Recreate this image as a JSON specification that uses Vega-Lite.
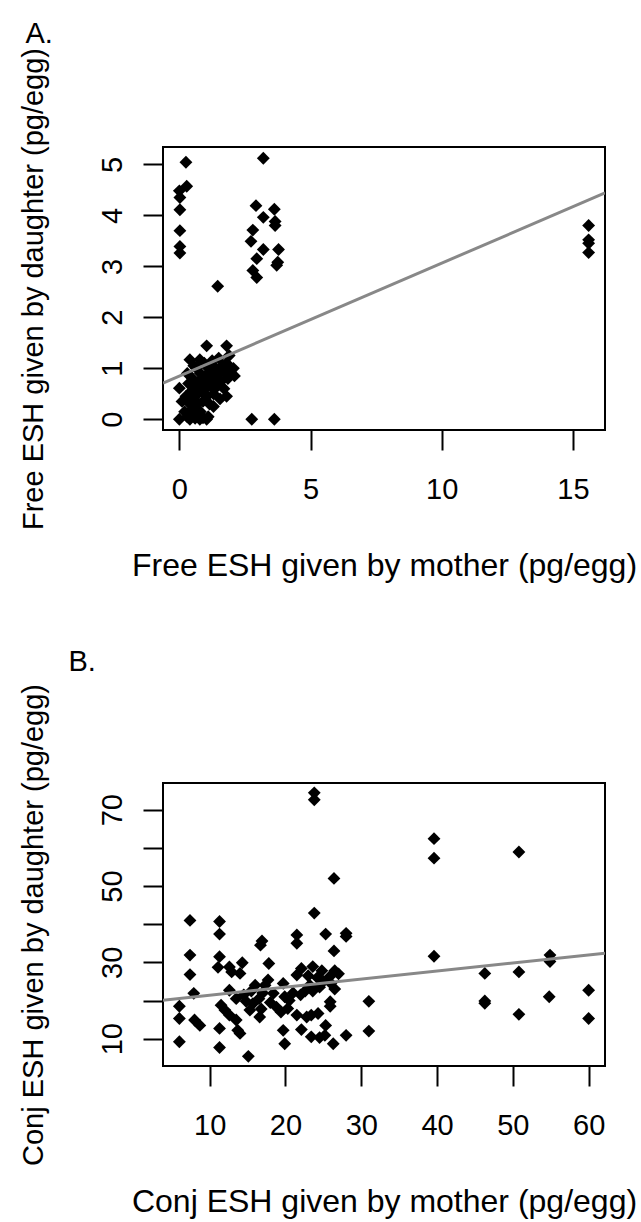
{
  "$schema": "https://vega.github.io/schema/vega-lite/v6.json",
  "autosize": {"type": "none"},
  "padding": {"left": 163, "top": 147, "right": 478, "bottom": 1075},
  "background": "white",
  "config": {
    "font": "Liberation Sans",
    "view": {"stroke": "black", "strokeWidth": 2},
    "axis": {
      "domain": false, "grid": false, "ticks": true, "tickSize": 20, "tickWidth": 2, "tickColor": "black",
      "labelFontSize": 29, "labelColor": "black", "labelFont": "Liberation Sans", "labelFlush": false, "labelOverlap": false,
      "titleFontWeight": "normal", "titleColor": "black", "titleFont": "Liberation Sans"
    },
    "axisX": {"labelBaseline": "alphabetic", "labelPadding": 48, "titleFontSize": 32, "titleY": 145, "titleBaseline": "alphabetic"},
    "axisY": {"labelAngle": -90, "labelAlign": "center", "labelBaseline": "alphabetic", "labelPadding": 22,
              "titleFontSize": 29, "titleAngle": -90, "titleAlign": "center", "titleBaseline": "alphabetic", "titleX": -121, "titleY": 141.5}
  },
  "datasets": {
    "ptsA": [
      {"mother":0.25,"daughter":5.04},{"mother":0.28,"daughter":4.57},{"mother":0.0,"daughter":4.48},{"mother":0.02,"daughter":4.35},
      {"mother":0.02,"daughter":4.11},{"mother":0.02,"daughter":3.70},{"mother":0.02,"daughter":3.39},{"mother":0.02,"daughter":3.26},
      {"mother":3.2,"daughter":5.12},{"mother":2.92,"daughter":4.19},{"mother":3.62,"daughter":4.12},{"mother":3.2,"daughter":3.96},
      {"mother":3.65,"daughter":3.88},{"mother":3.65,"daughter":3.80},{"mother":2.8,"daughter":3.71},{"mother":2.73,"daughter":3.49},
      {"mother":3.2,"daughter":3.33},{"mother":3.78,"daughter":3.33},{"mother":2.95,"daughter":3.15},{"mother":3.71,"daughter":3.02},
      {"mother":3.75,"daughter":3.08},{"mother":2.8,"daughter":2.92},{"mother":2.95,"daughter":2.78},
      {"mother":15.6,"daughter":3.80},{"mother":15.6,"daughter":3.52},{"mother":15.6,"daughter":3.45},{"mother":15.6,"daughter":3.27},
      {"mother":1.46,"daughter":2.61},{"mother":1.04,"daughter":1.44},{"mother":1.8,"daughter":1.44},
      {"mother":0.0,"daughter":0.0},{"mother":0.78,"daughter":0.0},{"mother":1.04,"daughter":0.0},{"mother":2.76,"daughter":0.0},{"mother":3.62,"daughter":0.0},
      {"mother":0.0,"daughter":0.61},{"mother":0.1,"daughter":0.35},{"mother":0.2,"daughter":0.15},{"mother":0.25,"daughter":0.45},
      {"mother":0.3,"daughter":0.05},{"mother":0.35,"daughter":0.7},{"mother":0.4,"daughter":0.3},{"mother":0.45,"daughter":0.55},
      {"mother":0.5,"daughter":0.2},{"mother":0.5,"daughter":0.8},{"mother":0.55,"daughter":0.4},{"mother":0.6,"daughter":0.65},
      {"mother":0.6,"daughter":0.1},{"mother":0.65,"daughter":1.0},{"mother":0.7,"daughter":0.5},{"mother":0.7,"daughter":0.3},
      {"mother":0.75,"daughter":0.75},{"mother":0.8,"daughter":0.9},{"mother":0.8,"daughter":0.15},{"mother":0.85,"daughter":0.55},
      {"mother":0.9,"daughter":0.7},{"mother":0.9,"daughter":0.35},{"mother":0.95,"daughter":1.1},{"mother":1.0,"daughter":0.6},
      {"mother":1.0,"daughter":0.85},{"mother":1.05,"daughter":0.45},{"mother":1.1,"daughter":0.75},{"mother":1.1,"daughter":1.0},
      {"mother":1.15,"daughter":0.3},{"mother":1.2,"daughter":0.65},{"mother":1.2,"daughter":0.9},{"mother":1.25,"daughter":1.15},
      {"mother":1.3,"daughter":0.5},{"mother":1.35,"daughter":0.8},{"mother":1.4,"daughter":1.0},{"mother":1.45,"daughter":0.65},
      {"mother":1.5,"daughter":0.9},{"mother":1.5,"daughter":1.2},{"mother":1.55,"daughter":0.4},{"mother":1.6,"daughter":0.75},
      {"mother":1.65,"daughter":1.05},{"mother":1.7,"daughter":0.6},{"mother":1.75,"daughter":0.9},{"mother":1.8,"daughter":1.1},
      {"mother":1.85,"daughter":0.8},{"mother":1.9,"daughter":1.25},{"mother":1.95,"daughter":0.95},{"mother":0.4,"daughter":0.0},
      {"mother":0.6,"daughter":0.02},{"mother":0.9,"daughter":0.03},{"mother":1.1,"daughter":0.05},{"mother":0.3,"daughter":0.9},
      {"mother":0.55,"daughter":1.05},{"mother":1.3,"daughter":0.25},{"mother":0.78,"daughter":0.06},{"mother":0.4,"daughter":1.17},
      {"mother":0.78,"daughter":1.17},{"mother":2.06,"daughter":1.0},{"mother":2.1,"daughter":0.85},{"mother":1.8,"daughter":0.45}
    ],
    "lineA": [{"mother":-0.624,"daughter":0.71},{"mother":16.224,"daughter":4.44}],
    "ptsB": [
      {"mother":50.8,"daughter":58.9},{"mother":39.6,"daughter":62.4},{"mother":39.6,"daughter":57.3},{"mother":39.6,"daughter":31.6},
      {"mother":54.9,"daughter":31.9},{"mother":54.9,"daughter":30.2},{"mother":46.3,"daughter":27.1},{"mother":50.8,"daughter":27.5},
      {"mother":60.0,"daughter":22.7},{"mother":46.3,"daughter":19.9},{"mother":46.3,"daughter":19.3},{"mother":54.8,"daughter":21.0},
      {"mother":50.8,"daughter":16.4},{"mother":60.0,"daughter":15.3},
      {"mother":23.8,"daughter":74.4},{"mother":23.8,"daughter":72.6},{"mother":26.4,"daughter":52.0},{"mother":23.8,"daughter":42.9},
      {"mother":21.5,"daughter":37.2},{"mother":25.3,"daughter":37.4},{"mother":28.0,"daughter":37.6},{"mother":28.0,"daughter":36.8},
      {"mother":21.5,"daughter":35.0},{"mother":26.4,"daughter":33.0},{"mother":31.0,"daughter":19.8},{"mother":31.0,"daughter":12.0},
      {"mother":28.0,"daughter":10.9},{"mother":26.3,"daughter":8.7},{"mother":22.1,"daughter":12.4},{"mother":23.4,"daughter":10.5},
      {"mother":24.5,"daughter":10.3},{"mother":25.2,"daughter":10.9},{"mother":23.4,"daughter":16.2},{"mother":24.3,"daughter":16.6},
      {"mother":25.3,"daughter":13.5},{"mother":25.9,"daughter":19.7},{"mother":25.9,"daughter":18.5},{"mother":22.1,"daughter":28.4},
      {"mother":21.5,"daughter":26.7},
      {"mother":23.6,"daughter":28.9},{"mother":24.8,"daughter":27.8},{"mother":26.5,"daughter":27.8},{"mother":23.6,"daughter":22.5},
      {"mother":22.6,"daughter":22.5},{"mother":26.5,"daughter":23.0},{"mother":25.0,"daughter":25.0},{"mother":23.0,"daughter":26.5},
      {"mother":24.2,"daughter":26.0},{"mother":25.8,"daughter":26.2},{"mother":27.0,"daughter":27.0},{"mother":24.5,"daughter":23.5},
      {"mother":26.0,"daughter":24.5},
      {"mother":11.3,"daughter":37.4},{"mother":7.4,"daughter":31.9},{"mother":7.4,"daughter":26.8},{"mother":7.9,"daughter":21.9},
      {"mother":6.0,"daughter":18.5},{"mother":6.0,"daughter":15.3},{"mother":6.0,"daughter":9.2},{"mother":8.0,"daughter":14.9},
      {"mother":8.7,"daughter":13.5},{"mother":11.3,"daughter":31.5},{"mother":11.1,"daughter":28.7},{"mother":12.6,"daughter":28.8},
      {"mother":12.9,"daughter":27.5},{"mother":14.3,"daughter":29.9},{"mother":14.0,"daughter":27.1},{"mother":16.7,"daughter":34.5},
      {"mother":16.9,"daughter":35.6},{"mother":17.8,"daughter":29.7},{"mother":11.3,"daughter":12.7},{"mother":11.3,"daughter":7.7},
      {"mother":15.1,"daughter":5.4},{"mother":13.7,"daughter":12.2},{"mother":14.0,"daughter":11.4},{"mother":12.6,"daughter":16.2},
      {"mother":13.5,"daughter":14.9},{"mother":11.5,"daughter":18.8},{"mother":12.0,"daughter":17.5},{"mother":12.6,"daughter":22.7},
      {"mother":15.3,"daughter":17.5},{"mother":15.7,"daughter":19.2},{"mother":16.6,"daughter":15.7},{"mother":17.3,"daughter":24.0},
      {"mother":17.7,"daughter":25.4},{"mother":18.4,"daughter":21.9},{"mother":19.7,"daughter":24.5},{"mother":19.9,"daughter":21.0},
      {"mother":19.7,"daughter":12.2},{"mother":19.9,"daughter":8.7},{"mother":18.8,"daughter":18.3},{"mother":19.4,"daughter":17.0},
      {"mother":20.3,"daughter":17.9},{"mother":21.5,"daughter":16.2},{"mother":22.8,"daughter":15.7},{"mother":23.2,"daughter":24.0},
      {"mother":14.5,"daughter":21.5},{"mother":15.5,"daughter":22.5},{"mother":16.5,"daughter":20.5},{"mother":17.0,"daughter":22.0},
      {"mother":18.0,"daughter":19.5},{"mother":16.0,"daughter":24.0},{"mother":14.8,"daughter":19.8},{"mother":21.0,"daughter":22.0},
      {"mother":20.5,"daughter":20.0},{"mother":22.0,"daughter":21.5},{"mother":13.5,"daughter":20.5},{"mother":16.8,"daughter":17.8},
      {"mother":7.4,"daughter":41.0},{"mother":11.3,"daughter":40.7}
    ],
    "lineB": [{"mother":3.84,"daughter":20.1},{"mother":62.16,"daughter":32.4}]
  },
  "spacing": 353,
  "bounds": "flush",
  "vconcat": [
    {
      "width": 442, "height": 283,
      "resolve": {"axis": {"x": "independent"}},
      "layer": [
        {
          "data": {"name": "ptsA"},
          "mark": {"type": "point", "shape": "diamond", "filled": true, "color": "black", "size": 165, "opacity": 1},
          "encoding": {
            "x": {"field": "mother", "type": "quantitative", "scale": {"domain": [-0.624, 16.224], "nice": false, "zero": false},
                  "axis": {"values": [0, 5, 10, 15], "title": "Free ESH given by mother (pg/egg)"}},
            "y": {"field": "daughter", "type": "quantitative", "scale": {"domain": [-0.21, 5.34], "nice": false, "zero": false},
                  "axis": {"values": [0, 1, 2, 3, 4, 5], "format": "d", "title": "Free ESH given by daughter (pg/egg)"}}
          }
        },
        {
          "data": {"name": "lineA"},
          "mark": {"type": "line", "color": "#888888", "strokeWidth": 3, "clip": true},
          "encoding": {
            "x": {"field": "mother", "type": "quantitative",
                  "axis": {"orient": "top", "labels": false, "ticks": false, "domain": false, "grid": false, "title": "A.",
                           "titleX": -138, "titleY": -105, "titleAlign": "left", "titleAnchor": "start", "titleBaseline": "alphabetic", "titleAngle": 0, "titleFontSize": 29}},
            "y": {"field": "daughter", "type": "quantitative"}
          }
        }
      ]
    },
    {
      "width": 442, "height": 283,
      "resolve": {"axis": {"x": "independent"}},
      "layer": [
        {
          "data": {"name": "ptsB"},
          "mark": {"type": "point", "shape": "diamond", "filled": true, "color": "black", "size": 165, "opacity": 1},
          "encoding": {
            "x": {"field": "mother", "type": "quantitative", "scale": {"domain": [3.84, 62.16], "nice": false, "zero": false},
                  "axis": {"values": [10, 20, 30, 40, 50, 60], "title": "Conj ESH given by mother (pg/egg)"}},
            "y": {"field": "daughter", "type": "quantitative", "scale": {"domain": [2.86, 76.98], "nice": false, "zero": false},
                  "axis": {"values": [10, 20, 30, 40, 50, 60, 70], "labelExpr": "datum.value % 20 == 10 ? datum.label : ''", "title": "Conj ESH given by daughter (pg/egg)"}}
          }
        },
        {
          "data": {"name": "lineB"},
          "mark": {"type": "line", "color": "#888888", "strokeWidth": 3, "clip": true},
          "encoding": {
            "x": {"field": "mother", "type": "quantitative",
                  "axis": {"orient": "top", "labels": false, "ticks": false, "domain": false, "grid": false, "title": "B.",
                           "titleX": -95, "titleY": -113, "titleAlign": "left", "titleAnchor": "start", "titleBaseline": "alphabetic", "titleAngle": 0, "titleFontSize": 29}},
            "y": {"field": "daughter", "type": "quantitative"}
          }
        }
      ]
    }
  ]
}
